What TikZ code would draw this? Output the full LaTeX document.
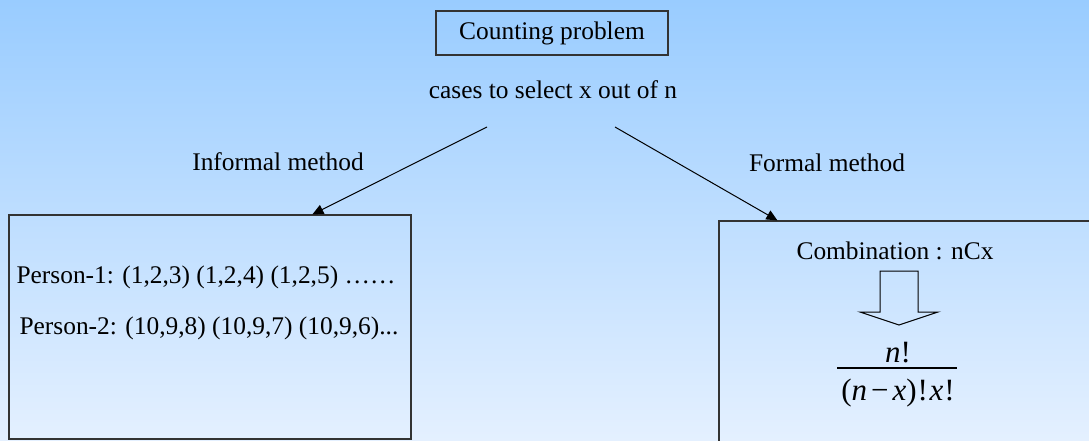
\documentclass[tikz,border=0pt]{standalone}
\usepackage{fontspec}
\setmainfont{Liberation Serif}
\usetikzlibrary{arrows.meta,calc}
\definecolor{skytop}{RGB}{153,204,255}
\definecolor{skybottom}{RGB}{228,240,255}
\begin{document}
\begin{tikzpicture}[x=1pt,y=-1pt,
  every node/.style={font=\fontsize{25.4}{30}\selectfont, inner sep=0pt},
  frame/.style={draw=black!80, line width=1.2pt},
  link/.style={line width=1pt, -{Triangle[length=11pt,width=10pt]}}]
  % page background: vertical blue gradient
  \useasboundingbox (0,0) rectangle (1089,440);
  \clip (0,0) rectangle (1089,440);
  \shade[top color=skytop, bottom color=skybottom] (0,0) rectangle (1089,440);

  % title and question
  \node[frame, minimum width=232pt, minimum height=44pt] (title) at (552,33) {Counting problem};
  \node (cases) at (553,90) {cases to select x out of n};

  % the two method boxes (the right one runs off the page)
  \node[frame, minimum width=402pt, minimum height=224pt] (lbox) at (210,327) {};
  \node[frame, minimum width=400pt, minimum height=240pt] (rbox) at (919,341) {};

  % branch labels
  \node (inf) at (278,162) {Informal method};
  \node (frm) at (827,163) {Formal method};

  % branch arrows
  \coordinate (ls) at (487,127);
  \coordinate (rs) at (615,127);
  \coordinate (le) at ($(lbox.north west)+(304,0)$);
  \coordinate (re) at ($(rbox.north west)+(59,0)$);
  \draw[link] (ls) -- (le);
  \draw[link] (rs) -- (re);

  % informal enumeration
  \node (p1) at (206,277) {Person-1: (1,2,3) (1,2,4) (1,2,5) ……};
  \node (p2) at (209,328) {Person-2: (10,9,8) (10,9,7) (10,9,6)...};

  % formal method
  \node (comb) at (895,251) {Combination : nCx};
  \draw[line width=1pt] (880,271) -- (918,271) -- (918,312) -- (938,312)
    -- (899,325) -- (860,312) -- (880,312) -- cycle;
  \node[font=\fontsize{31}{36}\selectfont] (num) at (898,353) {\textit{n}!};
  \draw[line width=1.3pt] (837,368) -- (957,368);
  \node[font=\fontsize{31}{36}\selectfont] (den) at (898,393)
    {(\textit{n}\hspace{4pt}−\hspace{4pt}\textit{x})\hspace{1pt}!\hspace{1.5pt}\textit{x}\hspace{1pt}!};
\end{tikzpicture}
\end{document}
